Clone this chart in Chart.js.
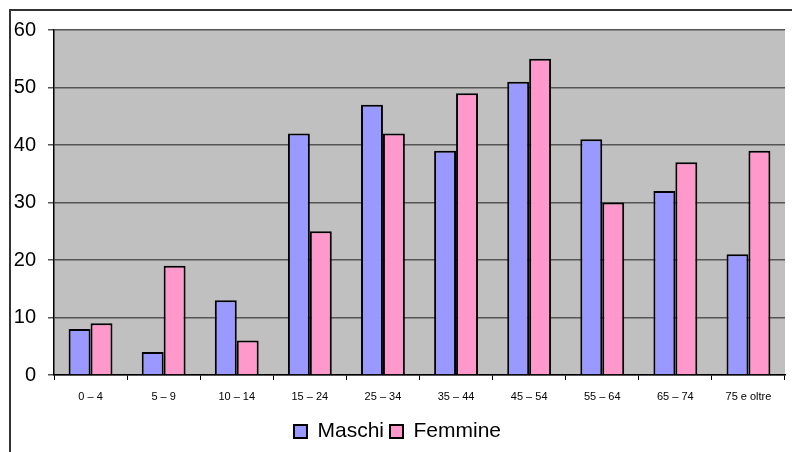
<!DOCTYPE html>
<html>
<head>
<meta charset="utf-8">
<script src="https://cdn.jsdelivr.net/npm/chart.js@4"></script>
<style>
  body { margin: 0; background: #fff; }
  #wrap { width: 792px; height: 452px; position: relative; }
</style>
</head>
<body>
<div id="wrap"><canvas id="chart"></canvas></div>
<script>
let age_groups = ["0 – 4", "5 – 9", "10 – 14", "15 – 24", "25 – 34", "35 – 44", "45 – 54", "55 – 64", "65 – 74", "75 e oltre"];
let maschi = [8, 4, 13, 42, 47, 39, 51, 41, 32, 21];
let femmine = [9, 19, 6, 25, 42, 49, 55, 30, 37, 39];
let y_ticks = [0, 10, 20, 30, 40, 50, 60];

// grey plot background + frame round the whole chart
let chart_frame = {
  id: "chart_frame",
  beforeDraw: (chart) => {
    let ctx = chart.ctx;
    let a = chart.chartArea;
    ctx.save();
    ctx.fillStyle = "#C0C0C0";
    ctx.fillRect(a.left, a.top, a.right - a.left, a.bottom - a.top);
    ctx.strokeStyle = "#333";
    ctx.lineWidth = 2;
    ctx.beginPath();
    ctx.moveTo(10, 452);
    ctx.lineTo(10, 10);
    ctx.lineTo(792, 10);
    ctx.stroke();
    ctx.restore();
  },
};

const ctx = document.getElementById("chart").getContext("2d");
let population_chart = new Chart(ctx, {
  type: "bar",
  data: {
    labels: age_groups,
    datasets: [
      {
        label: "Maschi",
        data: maschi,
        backgroundColor: "#9999FF",
        borderColor: "#000",
        borderWidth: 2,
      },
      {
        label: "Femmine",
        data: femmine,
        backgroundColor: "#FF99CC",
        borderColor: "#000",
        borderWidth: 2,
      },
    ],
  },
  options: {
    responsive: true,
    maintainAspectRatio: false,
    animation: false,
    layout: { padding: { left: 10, top: 30, right: 7, bottom: 0 } },
    datasets: { bar: { barPercentage: 1, categoryPercentage: 0.6 } },
    scales: {
      y: {
        min: 0,
        max: 60,
        afterBuildTicks: (scale) => {
          scale.ticks = y_ticks.map((v) => ({ value: v }));
        },
        afterFit: (scale) => {
          scale.width = 44;
        },
        ticks: {
          color: "#000",
          padding: 12,
          font: { family: "Liberation Sans", size: 20 },
        },
        grid: { color: "#555", lineWidth: 1.5, tickLength: 6 },
        border: { color: "#000", width: 1.5 },
      },
      x: {
        afterFit: (scale) => {
          scale.height = 40;
        },
        ticks: {
          color: "#000",
          padding: 10,
          maxRotation: 0,
          font: { family: "Liberation Sans", size: 11 },
        },
        grid: { drawOnChartArea: false, tickLength: 5, color: "#000", offset: true },
        border: { color: "#000", width: 1.5 },
      },
    },
    plugins: {
      legend: {
        position: "bottom",
        labels: {
          color: "#000",
          boxWidth: 13,
          boxHeight: 13,
          padding: 6,
          font: { family: "Liberation Sans", size: 21 },
        },
      },
      tooltip: { enabled: false },
    },
  },
  plugins: [chart_frame],
});
</script>
</body>
</html>
